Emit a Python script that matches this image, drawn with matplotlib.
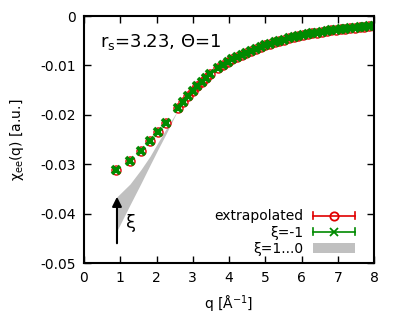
import matplotlib
matplotlib.use('Agg')
import matplotlib.pyplot as plt
from matplotlib.lines import Line2D
from matplotlib.patches import Patch
from matplotlib.legend_handler import HandlerBase

plt.rcParams['font.family'] = ['DejaVu Sans']
plt.rcParams['mathtext.default'] = 'regular'

# wave numbers [1/Angstrom]
q = [0.88, 1.27, 1.57, 1.82, 2.04, 2.26, 2.59, 2.73, 2.87, 3.01, 3.12, 3.26, 3.37, 3.48,
     3.70, 3.83, 3.96, 4.09, 4.22, 4.35, 4.48, 4.61, 4.74, 4.87, 5.00, 5.13, 5.26, 5.39,
     5.52, 5.65, 5.78, 5.91, 6.04, 6.17, 6.30, 6.43, 6.56, 6.69, 6.82, 6.95, 7.08, 7.21,
     7.34, 7.47, 7.60, 7.73, 7.86, 7.99]

# chi_ee(q), extrapolated
chi_extrap = [-0.0312, -0.0294, -0.0273, -0.0253, -0.0235, -0.0217, -0.0186, -0.0174,
              -0.0162, -0.0152, -0.0142, -0.0134, -0.0126, -0.0117,
              -0.0105, -0.0099, -0.0093, -0.0088, -0.0083, -0.0078, -0.0074, -0.0070,
              -0.0066, -0.0062, -0.0059, -0.0056, -0.0053, -0.0050, -0.0048, -0.0045,
              -0.0043, -0.0041, -0.0039, -0.0037, -0.0035, -0.0034, -0.0032, -0.0031,
              -0.0029, -0.0028, -0.0027, -0.0026, -0.0025, -0.0024, -0.0023, -0.0022,
              -0.0021, -0.0020]

# chi_ee(q) for xi = -1
chi_xi_m1 = [-0.0312, -0.0294, -0.0273, -0.0253, -0.0235, -0.0217, -0.0186, -0.0174,
             -0.0162, -0.0152, -0.0142, -0.0134, -0.0126, -0.0117,
             -0.0105, -0.0099, -0.0093, -0.0088, -0.0083, -0.0078, -0.0074, -0.0070,
             -0.0066, -0.0062, -0.0059, -0.0056, -0.0053, -0.0050, -0.0048, -0.0045,
             -0.0043, -0.0041, -0.0039, -0.0037, -0.0035, -0.0034, -0.0032, -0.0031,
             -0.0029, -0.0028, -0.0027, -0.0026, -0.0025, -0.0024, -0.0023, -0.0022,
             -0.0021, -0.0020]

# band xi = 1...0
q_band = [0.88, 1.27, 1.57, 1.82, 2.04, 2.26, 2.59]
band_upper = [-0.0368, -0.0340, -0.0311, -0.0284, -0.0256, -0.0229, -0.0190]
band_lower = [-0.0439, -0.0382, -0.0339, -0.0302, -0.0270, -0.0239, -0.0190]

RED = '#e00000'
GREEN = '#008a00'
GRAY = '#c0c0c0'


class ErrbarHandler(HandlerBase):
    def __init__(self, color, marker, mfc):
        super().__init__()
        self.color = color
        self.marker = marker
        self.mfc = mfc

    def create_artists(self, legend, orig_handle, xdescent, ydescent,
                       width, height, fontsize, trans):
        x0 = -xdescent
        x1 = width - xdescent
        y = height / 2 - ydescent
        c = 0.35 * height
        arts = [Line2D([x0, x1], [y, y], color=self.color, lw=1.2),
                Line2D([x0, x0], [y - c, y + c], color=self.color, lw=1.2),
                Line2D([x1, x1], [y - c, y + c], color=self.color, lw=1.2),
                Line2D([(x0 + x1) / 2], [y], marker=self.marker, ms=6, ls='none',
                       mfc=self.mfc, mec=self.color, mew=1.3)]
        for a in arts:
            a.set_transform(trans)
        return arts


fig = plt.figure(figsize=(3.99, 3.30), dpi=100)
ax = fig.add_axes([0.2105, 0.203, 0.727, 0.7485])

ax.fill_between(q_band, band_lower, band_upper, color=GRAY, lw=0)
ax.plot(q, chi_extrap, 'o', ms=6.5, mfc='none', mec=RED, mew=1.0)
ax.plot(q, chi_xi_m1, 'x', ms=5.5, color=GREEN, mew=2.6)

ax.annotate('', xy=(0.91, -0.0366), xytext=(0.91, -0.0460),
            arrowprops=dict(arrowstyle='-|>', color='k', lw=1.5, mutation_scale=14,
                            shrinkA=0, shrinkB=0))
ax.text(1.30, -0.0418, 'ξ', fontsize=13, ha='center', va='center')
ax.text(0.055, 0.895, 'r$_s$=3.23, Θ=1', transform=ax.transAxes, fontsize=13,
        ha='left', va='center')

ax.set_xlim(0, 8)
ax.set_ylim(-0.05, 0)
ax.set_xticks(range(0, 9))
ax.set_yticks([-0.05, -0.04, -0.03, -0.02, -0.01, 0])
ax.set_yticklabels(['-0.05', '-0.04', '-0.03', '-0.02', '-0.01', '0'])
ax.tick_params(direction='in', length=5, width=1, top=True, right=True, labelsize=10, pad=6)
for s in ax.spines.values():
    s.set_linewidth(1.5)

ax.set_xlabel('q [Å$^{-1}$]', fontsize=10, labelpad=6)
ax.set_ylabel('χ$_{ee}$(q) [a.u.]', fontsize=10, labelpad=10)

h1 = Line2D([], [])
h2 = Line2D([], [])
h3 = Patch(facecolor=GRAY, edgecolor='none')
ax.legend([h1, h2, h3], ['extrapolated', 'ξ=-1', 'ξ=1...0'],
          handler_map={h1: ErrbarHandler(RED, 'o', 'none'),
                       h2: ErrbarHandler(GREEN, 'x', GREEN)},
          loc='lower right', bbox_to_anchor=(0.934, 0.03), frameon=False,
          markerfirst=False, fontsize=10, handlelength=3.0, handletextpad=0.7,
          labelspacing=0.15, borderpad=0, borderaxespad=0)

fig.savefig('out.png', dpi=100)
